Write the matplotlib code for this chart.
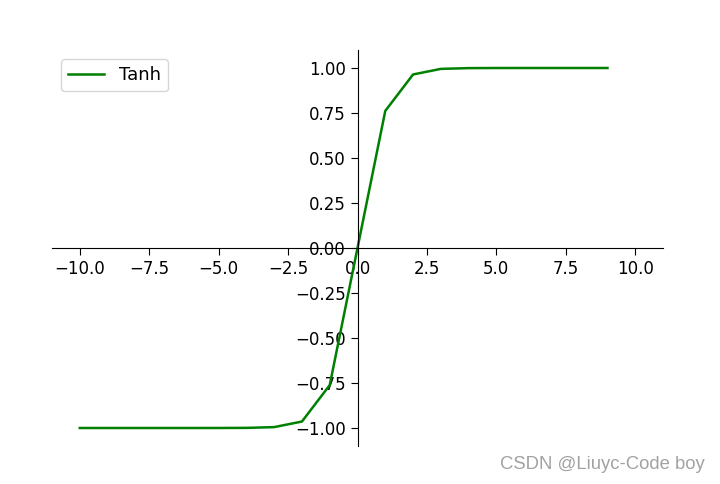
import matplotlib
matplotlib.use("Agg")
import matplotlib.pyplot as plt

x_vals = [-10, -9, -8, -7, -6, -5, -4, -3, -2, -1, 0, 1, 2, 3, 4, 5, 6, 7, 8, 9]
y_vals = [-1.0, -1.0, -1.0, -1.0, -0.99999, -0.99991, -0.99933, -0.99505, -0.96403, -0.76159,
          0.0, 0.76159, 0.96403, 0.99505, 0.99933, 0.99991, 0.99999, 1.0, 1.0, 1.0]

DPI = 100
fig = plt.figure(figsize=(720/DPI, 484/DPI), dpi=DPI)
ax = fig.add_axes([52/720, 1-446/484, (663-52)/720, (446-50)/484])
ax.plot(x_vals, y_vals, color="green", label="Tanh", linewidth=1.8)
ax.set_xlim(-11, 11)
ax.spines["right"].set_visible(False)
ax.spines["top"].set_visible(False)
ax.spines["left"].set_position(("data", 0))
ax.spines["bottom"].set_position(("data", 0))
ax.tick_params(labelsize=12, length=5)
ax.legend(loc="upper left", fontsize=13, borderaxespad=0.5)
fig.text(0.979, 0.041, "CSDN @Liuyc-Code boy", ha="right", va="center",
         color="#a2a2a2", fontsize=13.3, family="Liberation Sans")
fig.savefig("out.png", dpi=DPI)
